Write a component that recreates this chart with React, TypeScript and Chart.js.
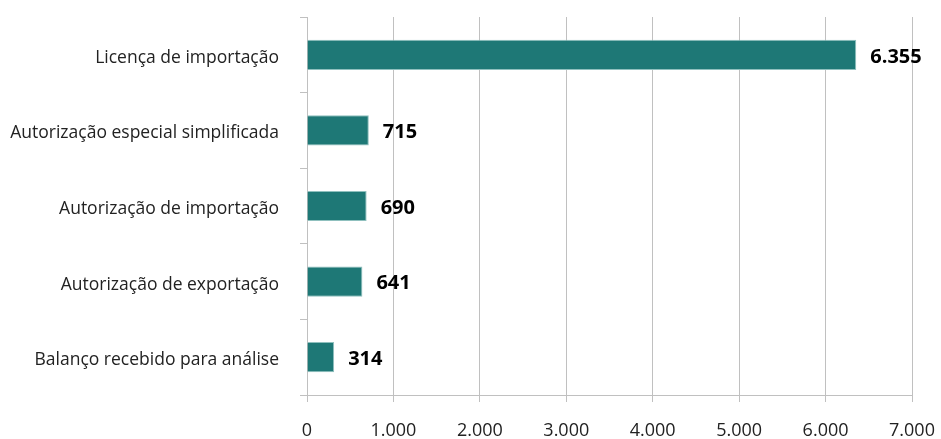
import React, { useEffect, useRef } from "react";
import { Chart, registerables } from "chart.js";

Chart.register(...registerables);

const categories = [
  "Licença de importação",
  "Autorização especial simplificada",
  "Autorização de importação",
  "Autorização de exportação",
  "Balanço recebido para análise",
];
const values = [6355, 715, 690, 641, 314];
const xTicks = [0, 1000, 2000, 3000, 4000, 5000, 6000, 7000];

const fmt = (v: number) => v.toLocaleString("de-DE");

const valueLabels = {
  id: "valueLabels",
  afterDatasetsDraw(chart: any) {
    const ctx = chart.ctx;
    const meta = chart.getDatasetMeta(0);
    ctx.save();
    ctx.font = "bold 20px 'Open Sans', sans-serif";
    ctx.fillStyle = "#000";
    ctx.textAlign = "left";
    ctx.textBaseline = "middle";
    meta.data.forEach((el: any, i: number) => {
      ctx.fillText(fmt(values[i]), el.x + 14, el.y + 2);
    });
    ctx.restore();
  },
};

export default function App() {
  const ref = useRef<HTMLCanvasElement>(null);
  useEffect(() => {
    document.body.style.margin = "0";
    const chart = new Chart(ref.current!, {
      type: "bar",
      data: {
        labels: categories,
        datasets: [
          {
            data: values,
            backgroundColor: "#1e7876",
            borderColor: "#8fc0be",
            borderWidth: 1,
            barPercentage: 0.4,
            categoryPercentage: 1,
          },
        ],
      },
      options: {
        indexAxis: "y",
        responsive: false,
        animation: false,
        layout: { padding: { top: 17, right: 29, left: 0, bottom: 0 } },
        plugins: { legend: { display: false }, tooltip: { enabled: false } },
        scales: {
          x: {
            min: 0,
            max: 7000,
            afterBuildTicks: (s: any) => {
              s.ticks = xTicks.map((v) => ({ value: v }));
            },
            afterFit: (s: any) => {
              s.height = 44;
              s.paddingLeft = 0;
              s.paddingRight = 0;
            },
            grid: {
              color: "#c0c0c0",
              lineWidth: 1,
              tickLength: 7,
              drawOnChartArea: true,
            },
            border: { color: "#c0c0c0" },
            ticks: {
              callback: (v: any) => fmt(Number(v)),
              font: { family: "'Open Sans', sans-serif", size: 18 },
              color: "#222",
              padding: 18,
              maxRotation: 0,
            },
          },
          y: {
            afterFit: (s: any) => {
              s.width = 307;
              s.paddingTop = 0;
              s.paddingBottom = 0;
            },
            grid: {
              offset: true,
              drawOnChartArea: false,
              color: "#c0c0c0",
              tickLength: 7,
            },
            border: { color: "#c0c0c0" },
            ticks: {
              font: { family: "'Open Sans', sans-serif", size: 17.5 },
              color: "#222",
              padding: 21,
              labelOffset: 3,
            },
          },
        },
      },
      plugins: [valueLabels],
    });
    return () => chart.destroy();
  }, []);
  return <canvas ref={ref} width={941} height={439} style={{ display: "block" }} />;
}
